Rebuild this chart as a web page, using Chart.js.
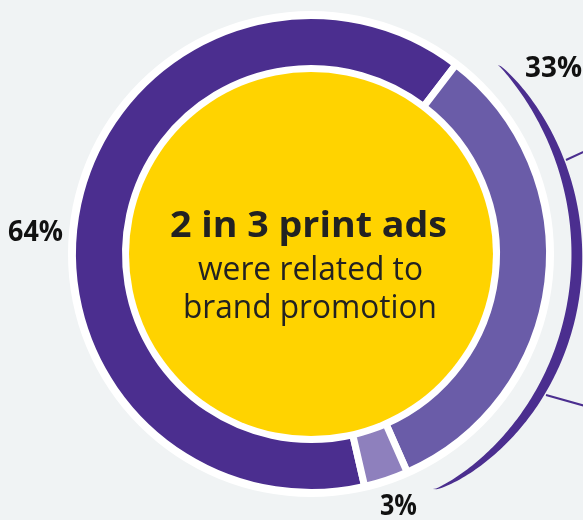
<!DOCTYPE html>
<html>
<head>
<meta charset="utf-8">
<script src="https://cdn.jsdelivr.net/npm/chart.js@4/dist/chart.umd.min.js"></script>
<style>
html,body{margin:0;padding:0;background:#f0f3f4;overflow:hidden;}
canvas{display:block;}
</style>
</head>
<body>
<canvas id="c" width="583" height="520"></canvas>
<script>
// ---- data ----
const categories = ['Brand promotion', 'Other', 'Other (minor)'];
const values = [64, 33, 3];
const valueLabels = ['64%', '33%', '3%'];
const headline = '2 in 3 print ads';
const subLines = ['were related to', 'brand promotion'];

// ---- style ----
const COL = {
  dark: '#4b2e8f',
  mid: '#6a5ca8',
  light: '#8e80bd',
  yellow: '#ffd300',
  white: '#ffffff',
  text: '#222222',
  bg: '#f0f3f4'
};
const BORDER = 7;
const OUTER = 235;      // visible outer radius of ring
const INNER = 189;      // visible inner radius of ring
const R_CHART = OUTER + BORDER / 2;
const R_CUT = INNER - BORDER / 2;

// draw text centred at cx, stretched horizontally to a target width
function fitText(ctx, text, cx, baseline, font, targetW) {
  ctx.save();
  ctx.font = font;
  ctx.textAlign = 'center';
  ctx.textBaseline = 'alphabetic';
  const w = ctx.measureText(text).width;
  const k = w > 0 ? targetW / w : 1;
  ctx.translate(cx, baseline);
  ctx.scale(k, 1);
  ctx.fillText(text, 0, 0);
  ctx.restore();
}

const deco = {
  id: 'deco',
  beforeDatasetsDraw(chart) {
    const ctx = chart.ctx;
    const a = chart.getDatasetMeta(0).data[0];
    ctx.save();
    ctx.fillStyle = COL.white;
    ctx.beginPath();
    ctx.arc(a.x, a.y, OUTER + 8, 0, Math.PI * 2);
    ctx.fill();
    ctx.restore();
  },
  afterDatasetsDraw(chart) {
    const ctx = chart.ctx;
    const meta = chart.getDatasetMeta(0);
    const a = meta.data[0];
    const x = a.x, y = a.y;
    ctx.save();
    // yellow centre disc
    ctx.fillStyle = COL.yellow;
    ctx.beginPath();
    ctx.arc(x, y, INNER - 7, 0, Math.PI * 2);
    ctx.fill();

    // tapered bracket arc around the 33% segment
    const ccx = x - 21, ccy = y;
    const a0 = -42.3 * Math.PI / 180, a1 = 58.7 * Math.PI / 180;
    const N = 160;
    const outer = [], inner = [];
    for (let i = 0; i <= N; i++) {
      const t = i / N;
      const ang = a0 + (a1 - a0) * t;
      const s = Math.sin(Math.PI * t);
      const rEnd = 281 - 6 * t;
      const r = rEnd + (287 - rEnd) * Math.sqrt(s);
      const hw = 5.5 * Math.pow(s, 0.6);
      outer.push([ccx + (r + hw) * Math.cos(ang), ccy + (r + hw) * Math.sin(ang)]);
      inner.push([ccx + (r - hw) * Math.cos(ang), ccy + (r - hw) * Math.sin(ang)]);
    }
    ctx.fillStyle = COL.dark;
    ctx.beginPath();
    outer.forEach((p, i) => i ? ctx.lineTo(p[0], p[1]) : ctx.moveTo(p[0], p[1]));
    for (let i = inner.length - 1; i >= 0; i--) ctx.lineTo(inner[i][0], inner[i][1]);
    ctx.closePath();
    ctx.fill();

    // connector lines leaving to the right
    ctx.strokeStyle = COL.dark;
    ctx.lineWidth = 2;
    ctx.beginPath();
    ctx.moveTo(x + 255, y - 94);
    ctx.lineTo(x + 292, y - 111);
    ctx.moveTo(x + 235, y + 141);
    ctx.lineTo(x + 292, y + 157);
    ctx.stroke();

    // value labels
    ctx.fillStyle = '#111111';
    const lf = 'bold 29px "Open Sans", sans-serif';
    fitText(ctx, valueLabels[0], x - 275.5, y - 13, lf, 55);
    fitText(ctx, valueLabels[1], x + 242.5, y - 177, lf, 57);
    fitText(ctx, valueLabels[2], x + 87.5, y + 261, lf, 37);

    // centre text
    ctx.fillStyle = COL.text;
    fitText(ctx, headline, x - 2.5, y - 17, 'bold 35px "Open Sans", sans-serif', 277);
    fitText(ctx, subLines[0], x - 0.5, y + 26, '32px "Open Sans", sans-serif', 225);
    fitText(ctx, subLines[1], x - 1, y + 64, '32px "Open Sans", sans-serif', 254);
    ctx.restore();
  }
};

new Chart(document.getElementById('c'), {
  type: 'doughnut',
  data: {
    labels: categories,
    datasets: [{
      data: values,
      backgroundColor: [COL.dark, COL.mid, COL.light],
      borderColor: COL.white,
      borderWidth: BORDER,
      hoverOffset: 0
    }]
  },
  options: {
    responsive: false,
    animation: false,
    events: [],
    rotation: 167,
    radius: R_CHART,
    cutout: (R_CUT / R_CHART * 100).toFixed(3) + '%',
    layout: { padding: { left: 39, right: 0, top: 0, bottom: 12 } },
    plugins: {
      legend: { display: false },
      tooltip: { enabled: false }
    }
  },
  plugins: [deco]
});
</script>
</body>
</html>
